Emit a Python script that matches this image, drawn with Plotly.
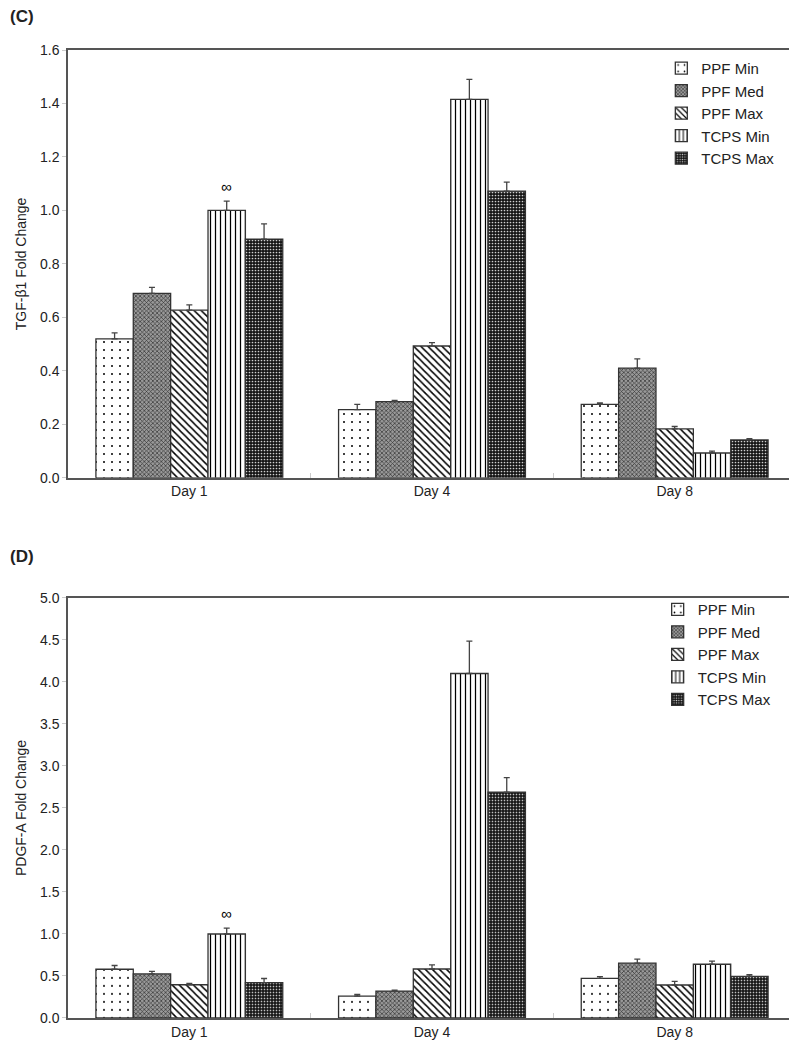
import plotly.graph_objects as go

days = ["Day 1", "Day 4", "Day 8"]
series = ["PPF Min", "PPF Med", "PPF Max", "TCPS Min", "TCPS Max"]

# (C) TGF-beta1 fold change, rows follow `series`
tgf = [
    [0.52, 0.255, 0.275],
    [0.69, 0.285, 0.41],
    [0.627, 0.493, 0.183],
    [1.0, 1.415, 0.093],
    [0.893, 1.072, 0.142],
]
tgf_err = [
    [0.022, 0.02, 0.005],
    [0.022, 0.005, 0.035],
    [0.02, 0.013, 0.009],
    [0.035, 0.075, 0.007],
    [0.057, 0.034, 0.005],
]

# (D) PDGF-A fold change
pdgf = [
    [0.58, 0.26, 0.472],
    [0.525, 0.32, 0.652],
    [0.396, 0.583, 0.393],
    [1.0, 4.10, 0.64],
    [0.42, 2.687, 0.496],
]
pdgf_err = [
    [0.045, 0.02, 0.02],
    [0.03, 0.01, 0.048],
    [0.017, 0.05, 0.044],
    [0.07, 0.385, 0.036],
    [0.05, 0.175, 0.019],
]

styles = [
    dict(bg="white", fg="black", shape=".", size=8, solidity=0.05),
    dict(bg="#999999", fg="#333333", shape="x", size=3, solidity=0.4),
    dict(bg="white", fg="black", shape="\\", size=5, solidity=0.3),
    dict(bg="white", fg="black", shape="|", size=5, solidity=0.25),
    dict(bg="#151515", fg="#d0d0d0", shape=".", size=3, solidity=0.25),
]

bargap = 0.23
font = "Liberation Sans, Arial, sans-serif"

fig = go.Figure()


def add_panel(vals, errs, xa, ya, legend):
    for i, name in enumerate(series):
        st = styles[i]
        fig.add_trace(go.Bar(
            x=days, y=vals[i], name=name, xaxis=xa, yaxis=ya, legend=legend,
            marker=dict(
                color=st["bg"],
                line=dict(color="#333333", width=1.3),
                pattern=dict(shape=st["shape"], bgcolor=st["bg"], fgcolor=st["fg"],
                             size=st["size"], solidity=st["solidity"], fillmode="replace"),
            ),
            error_y=dict(type="data", symmetric=False, array=errs[i],
                         arrayminus=[0] * len(errs[i]), color="#444444",
                         thickness=1.3, width=3),
        ))


add_panel(tgf, tgf_err, "x", "y", "legend")
add_panel(pdgf, pdgf_err, "x2", "y2", "legend2")

xcommon = dict(type="category", range=[-0.5, 2.5], showline=True, mirror=True,
               linecolor="#555555", linewidth=1.5, ticks="inside", tickson="boundaries",
               ticklen=5, tickcolor="#cccccc", tickfont=dict(size=14, color="#222"),
               showgrid=False, zeroline=False, automargin=False)
ycommon = dict(showline=True, mirror=True, linecolor="#555555", linewidth=1.5,
               ticks="outside", ticklen=4, tickcolor="#cccccc",
               tickfont=dict(size=14, color="#222"), showgrid=False, zeroline=False,
               automargin=False, tickformat=".1f")

# x position of the TCPS Min bar inside the Day 1 group
group = 1 - bargap
bw = group / len(series)
tcps_min_off = -group / 2 + bw * 3.5

legend_style = dict(xanchor="left", yanchor="top", bgcolor="rgba(0,0,0,0)",
                    font=dict(size=15, color="#222"), tracegroupgap=0, itemwidth=30)

# the page body has an 8px margin, so the figure is 8px smaller than the window
fig.update_layout(
    width=789, height=1042,
    margin=dict(l=60, r=1, t=42, b=32),
    paper_bgcolor="white", plot_bgcolor="white",
    font=dict(family=font, color="#222"),
    barmode="group", bargap=bargap, bargroupgap=0,
    showlegend=True,
    xaxis=dict(xcommon, domain=[0, 1], anchor="y"),
    yaxis=dict(ycommon, domain=[0.558, 1], anchor="x", range=[0, 1.6], dtick=0.2,
               title=dict(text="TGF-β1 Fold Change", font=dict(size=14), standoff=10)),
    xaxis2=dict(xcommon, domain=[0, 1], anchor="y2"),
    yaxis2=dict(ycommon, domain=[0, 0.434], anchor="x2", range=[0, 5.0], dtick=0.5,
                title=dict(text="PDGF-A Fold Change", font=dict(size=14), standoff=10)),
    legend=dict(legend_style, x=0.815, y=0.998),
    legend2=dict(legend_style, x=0.81, y=0.439),
    annotations=[
        dict(text="<b>(C)</b>", xref="paper", yref="paper", x=-0.083, y=1.035,
             xanchor="left", yanchor="middle", showarrow=False, font=dict(size=17)),
        dict(text="<b>(D)</b>", xref="paper", yref="paper", x=-0.083, y=0.477,
             xanchor="left", yanchor="middle", showarrow=False, font=dict(size=17)),
        dict(text="∞", xref="x", yref="y", x=tcps_min_off, y=1.0 + 0.035,
             yshift=15, showarrow=False, font=dict(size=15, color="black")),
        dict(text="∞", xref="x2", yref="y2", x=tcps_min_off, y=1.0 + 0.07,
             yshift=15, showarrow=False, font=dict(size=15, color="black")),
    ],
)

fig.write_html("out.html")
